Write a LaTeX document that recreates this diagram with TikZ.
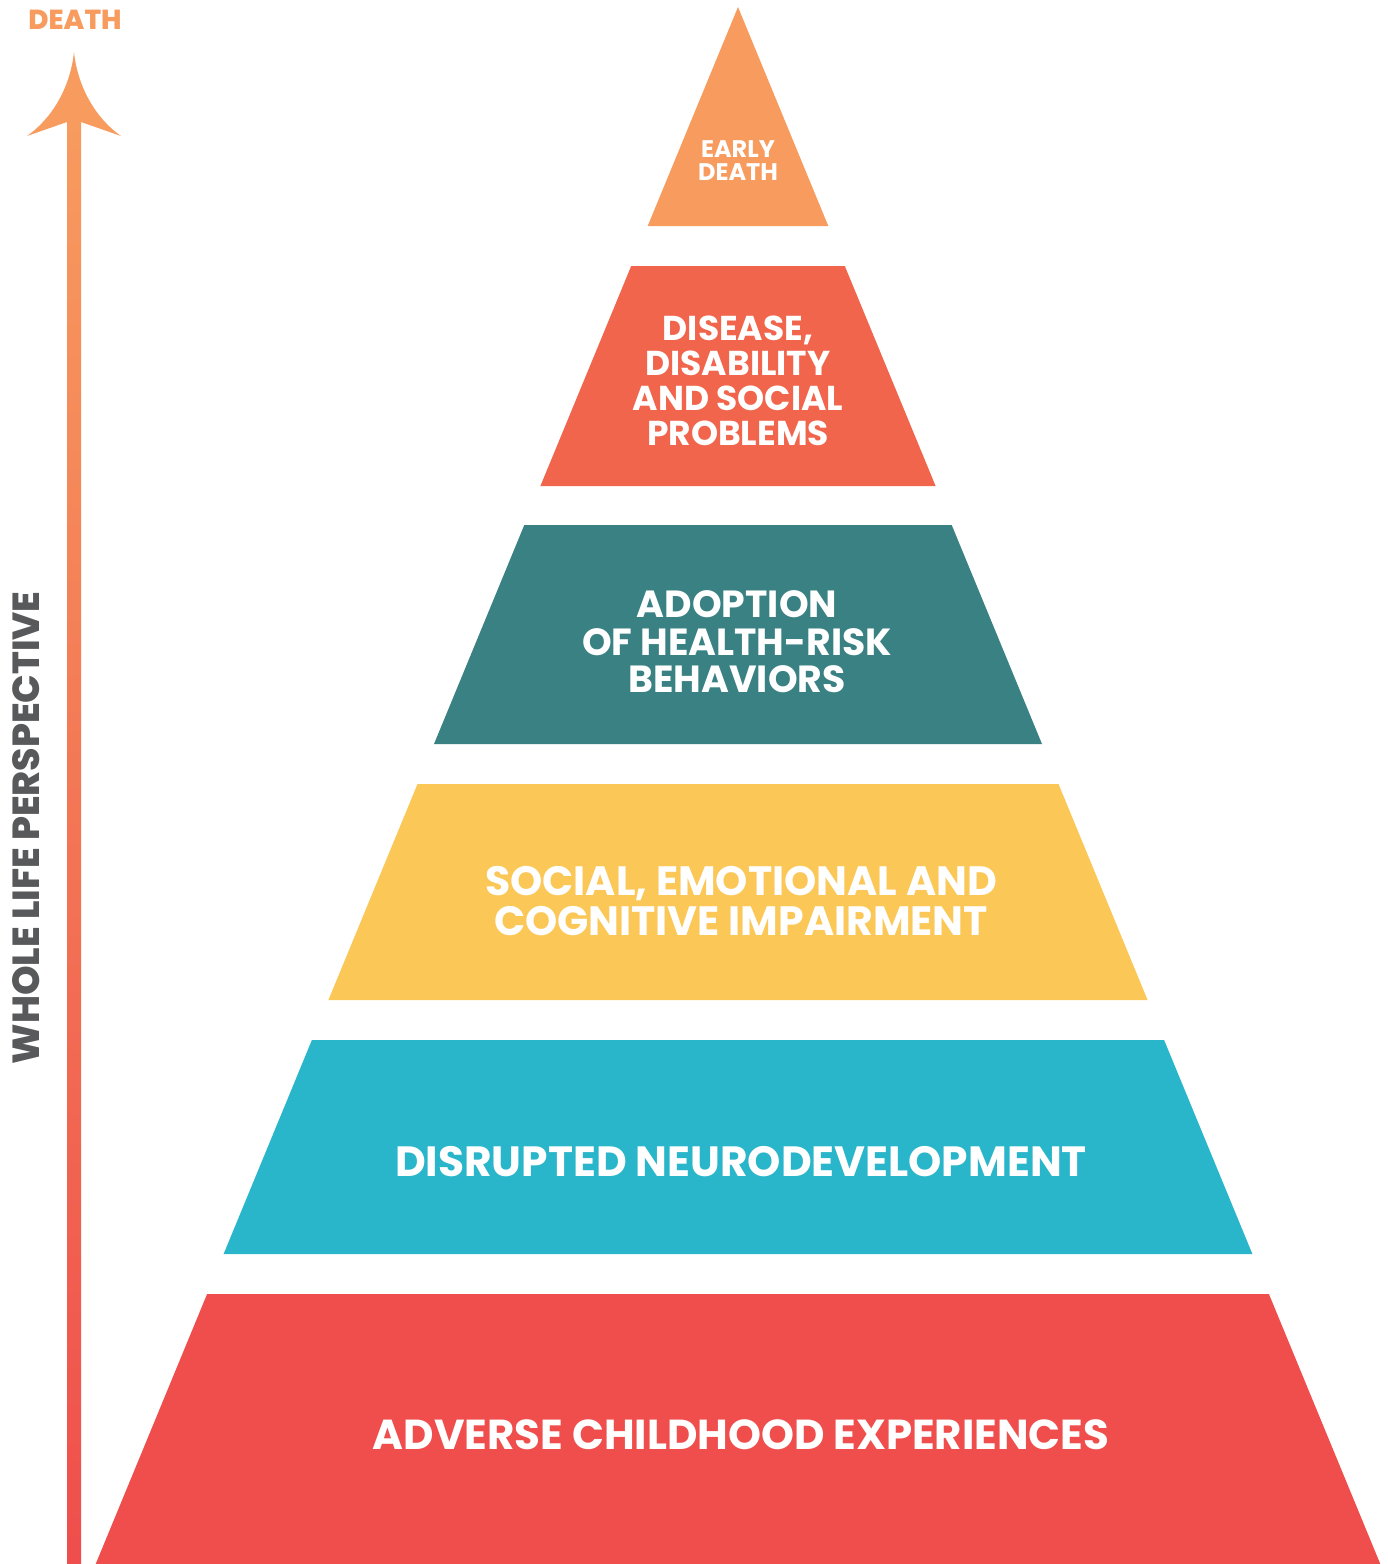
\documentclass[tikz,border=0pt]{standalone}
\usepackage{fontspec}
\setmainfont{Poppins}
\newfontfamily\heavyfont{Poppins ExtraBold}
\definecolor{cOrange}{HTML}{F79B5E}
\definecolor{cCoral}{HTML}{F0654B}
\definecolor{cTeal}{HTML}{3A8184}
\definecolor{cYellow}{HTML}{FBC757}
\definecolor{cCyan}{HTML}{29B6CA}
\definecolor{cRed}{HTML}{EF4E4C}
\definecolor{cGray}{HTML}{58595B}
\tikzset{
  lbl/.style={text=white, font=\bfseries, align=center, inner sep=0pt},
}
\begin{document}
\begin{tikzpicture}[x=1pt,y=-1pt]
\useasboundingbox (0,0) rectangle (1388,1564);
% pyramid bands
\fill[cOrange] (738,7) -- (828.3,226) -- (647.7,226) -- cycle;
\fill[cCoral] (631.2,266) -- (844.8,266) -- (935.6,486) -- (540.4,486) -- cycle;
\fill[cTeal] (524.3,525) -- (951.7,525) -- (1042,744) -- (434,744) -- cycle;
\fill[cYellow] (417.5,784) -- (1058.5,784) -- (1147.6,1000) -- (328.4,1000) -- cycle;
\fill[cCyan] (311.9,1040) -- (1164.1,1040) -- (1252.4,1254) -- (223.6,1254) -- cycle;
\fill[cRed] (207.1,1294) -- (1268.9,1294) -- (1380.3,1564) -- (95.7,1564) -- cycle;
% labels
\node[lbl, font=\bfseries\fontsize{24}{23}\selectfont] (t1) at (738,161) {EARLY\\DEATH};
\node[lbl, font=\bfseries\fontsize{34.5}{35}\selectfont] (t2) at (738,381) {DISEASE,\\DISABILITY\\AND SOCIAL\\PROBLEMS};
\node[lbl, font=\bfseries\fontsize{37.8}{37.5}\selectfont] (t3) at (737,642) {ADOPTION\\OF HEALTH-RISK\\BEHAVIORS};
\node[lbl, font=\bfseries\fontsize{41}{40}\selectfont] (t4) at (741,901) {SOCIAL, EMOTIONAL AND\\COGNITIVE IMPAIRMENT};
\node[lbl, font=\bfseries\fontsize{42.3}{40}\selectfont] (t5) at (741,1162) {DISRUPTED NEURODEVELOPMENT};
\node[lbl, font=\bfseries\fontsize{41.9}{40}\selectfont] (t6) at (741,1435) {ADVERSE CHILDHOOD EXPERIENCES};
% arrow
\shade[bottom color=cRed, top color=cOrange, shading angle=0] (67,122) rectangle (81,1564);
\fill[cOrange] (74,52) .. controls (70,90) and (50,120) .. (27,136) -- (67,122) -- (81,122) -- (121,136) .. controls (98,120) and (78,90) .. (74,52) -- cycle;
\node[lbl, text=cOrange, font=\heavyfont\fontsize{27.5}{28}\selectfont] (death) at (75,20) {DEATH};
\node[lbl, text=cGray, rotate=90, font=\heavyfont\fontsize{37.7}{38}\selectfont] (wlp) at (26,828) {WHOLE LIFE PERSPECTIVE};
\end{tikzpicture}
\end{document}
